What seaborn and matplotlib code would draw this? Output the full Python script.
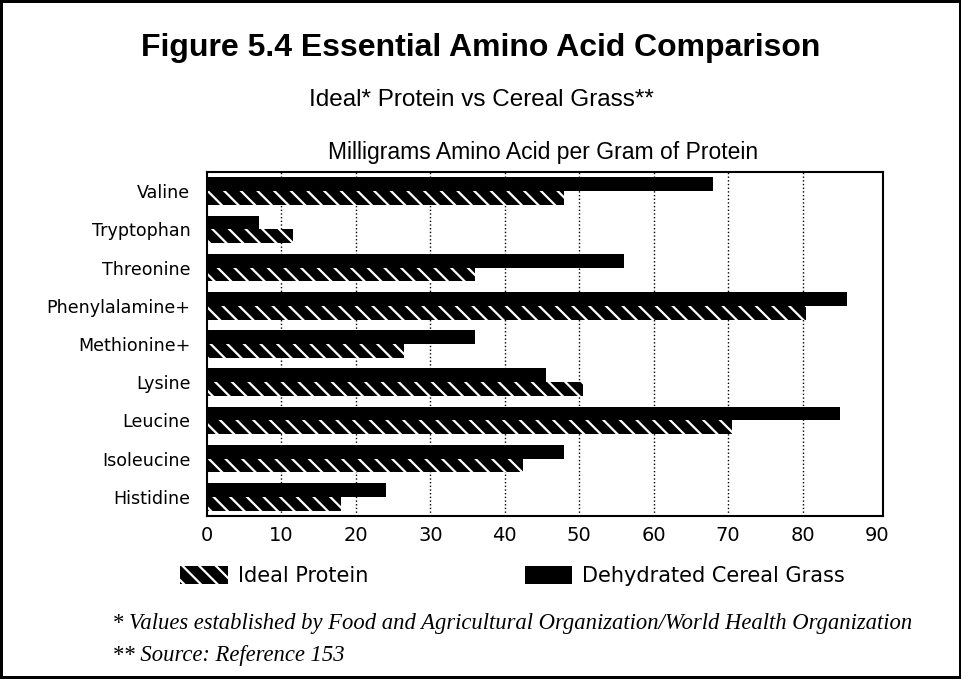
# plot.py
# Essential amino acid comparison, horizontal paired bars

import numpy as np
import pandas as pd
import matplotlib
matplotlib.use('Agg')
import matplotlib.pyplot as plt
import seaborn as sns

# ── Data ───────────────────────────────────────────────
amino_acids = ['Valine', 'Tryptophan', 'Threonine', 'Phenylalamine+',
               'Methionine+', 'Lysine', 'Leucine', 'Isoleucine', 'Histidine']
cereal_grass = [68, 7, 56, 86, 36, 45.5, 85, 48, 24]
ideal_protein = [48, 11.5, 36, 80.5, 26.5, 50.5, 70.5, 42.5, 18]
series_names = ['Dehydrated Cereal Grass', 'Ideal Protein']
x_ticks = [0, 10, 20, 30, 40, 50, 60, 70, 80, 90]

df = pd.DataFrame({
    'acid': amino_acids * 2,
    'value': cereal_grass + ideal_protein,
    'series': [series_names[0]] * len(amino_acids) + [series_names[1]] * len(amino_acids),
})

sns.set_style('white')
plt.rcParams['font.family'] = ['DejaVu Sans']
plt.rcParams['hatch.linewidth'] = 1.6
for key in ['text.color', 'axes.labelcolor', 'xtick.color', 'ytick.color']:
    plt.rcParams[key] = 'black'

fig = plt.figure(figsize=(9.62, 6.79), dpi=100, edgecolor='black', linewidth=3)
ax = fig.add_axes([207 / 962, 1 - 516 / 679, 676 / 962, 344 / 679])

sns.barplot(data=df, x='value', y='acid', hue='series', hue_order=series_names,
            order=amino_acids, orient='h', palette=['black', 'black'],
            width=0.72, legend=False, ax=ax)

# hatch the ideal protein bars (white lines on black)
grass_bars, ideal_bars = ax.containers[0], ax.containers[1]
for bar in grass_bars:
    bar.set_edgecolor('black')
    bar.set_linewidth(0)
for bar in ideal_bars:
    bar.set_facecolor('black')
    bar.set_edgecolor('white')
    bar.set_hatch('\\\\')
    bar.set_linewidth(0)

# ── Axes styling ───────────────────────────────────────
ax.set_xlim(0, 90.8)
ax.set_ylim(len(amino_acids) - 0.5, -0.5)
ax.set_xticks(x_ticks)
ax.set_xticklabels([str(t) for t in x_ticks], fontsize=14)
ax.set_yticks(range(len(amino_acids)))
ax.set_yticklabels(amino_acids, fontsize=12.6)
ax.set_yticks(np.arange(-0.5, len(amino_acids), 1), minor=True)
ax.tick_params(axis='y', which='major', length=0, pad=12)
ax.tick_params(axis='y', which='minor', length=7, width=1.2, direction='out')
ax.tick_params(axis='x', which='major', length=5, width=1.2, direction='inout', pad=5)
ax.set_xlabel('')
ax.set_ylabel('')
ax.grid(axis='x', color='black', linestyle=':', linewidth=1.0)
ax.set_axisbelow(True)
# no dotted line at 0 or 90 (spines sit there)
grid_lines = ax.xaxis.get_gridlines()
grid_lines[0].set_visible(False)
grid_lines[-1].set_visible(False)
for side in ['left', 'right', 'top', 'bottom']:
    ax.spines[side].set_visible(True)
    ax.spines[side].set_color('black')
    ax.spines[side].set_linewidth(1.5)

# ── Titles ─────────────────────────────────────────────
fig.text(0.5, 1 - 48 / 679, 'Figure 5.4 Essential Amino Acid Comparison',
         ha='center', va='center', fontsize=23, fontweight='bold',
         family='Liberation Sans')
fig.text(0.5, 1 - 100 / 679, 'Ideal* Protein vs Cereal Grass**',
         ha='center', va='center', fontsize=17.5, family='Liberation Sans')
fig.text(543 / 962, 1 - 153 / 679, 'Milligrams Amino Acid per Gram of Protein',
         ha='center', va='center', fontsize=16.5, family='Liberation Sans')

# ── Legend ─────────────────────────────────────────────
fig.legend([ideal_bars, grass_bars], ['Ideal Protein', 'Dehydrated Cereal Grass'],
           loc='center left', bbox_to_anchor=(180 / 962, 1 - 576 / 679),
           ncol=2, frameon=False, borderpad=0, borderaxespad=0,
           handlelength=2.3, handleheight=1.0, handletextpad=0.48,
           columnspacing=7.5, prop={'size': 15})

# ── Footnotes ──────────────────────────────────────────
fig.text(112 / 962, 1 - 623 / 679,
         '* Values established by Food and Agricultural Organization/World Health Organization',
         ha='left', va='center', fontsize=16.3, style='italic', family='Liberation Serif')
fig.text(112 / 962, 1 - 655 / 679, '** Source: Reference 153',
         ha='left', va='center', fontsize=16.3, style='italic', family='Liberation Serif')

fig.savefig('out.png', dpi=100, edgecolor=fig.get_edgecolor())
plt.close(fig)
